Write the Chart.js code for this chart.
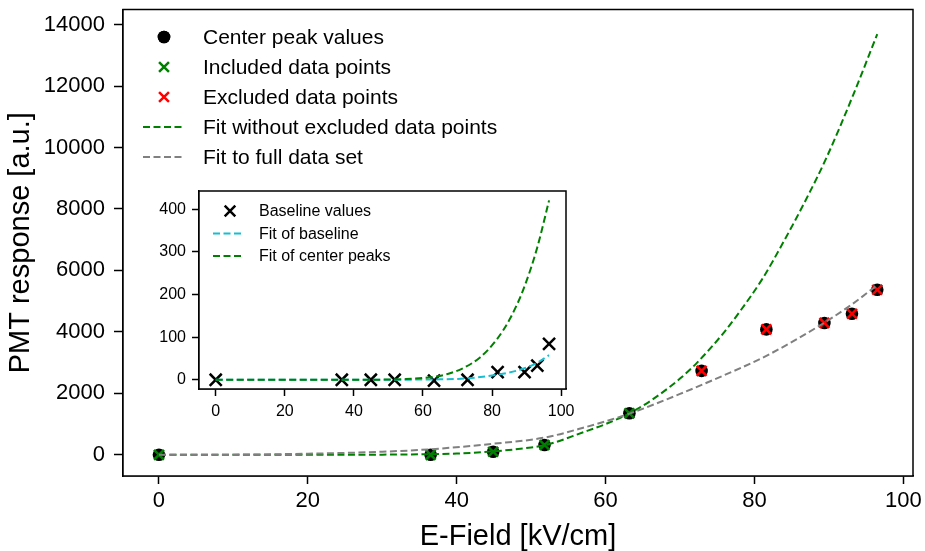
<!DOCTYPE html>
<html><head><meta charset="utf-8">
<script src="https://cdn.jsdelivr.net/npm/chart.js@4.4.1/dist/chart.umd.min.js"></script>
<style>
html,body{margin:0;padding:0;background:#fff;}
#wrap{position:relative;width:925px;height:551px;overflow:hidden;}
#main{position:absolute;left:0;top:0;}
#inset{position:absolute;left:140px;top:180px;}
</style></head><body>
<div id="wrap"><canvas id="main" width="925" height="551"></canvas><canvas id="inset" width="440" height="240"></canvas></div>
<script>
// ---------- data ----------
const includedField = [0, 36.5, 44.9, 51.8, 63.2];
const includedPeak  = [0, 0, 100, 320, 1350];
const excludedField = [72.9, 81.6, 89.4, 93.1, 96.5];
const excludedPeak  = [2730, 4080, 4290, 4590, 5370];

const fitExclField = [0, 10, 20, 30, 36.5, 40, 44.9, 50, 52, 57, 60, 63.2, 66, 70, 72.3, 76, 78, 81, 84, 87, 89.7, 93.3, 96.5];
const fitExclValue = [0, 0, 0, 5, 20, 40, 110, 240, 320, 734, 1000, 1350, 1750, 2480, 3000, 4010, 4650, 5700, 6970, 8340, 9680, 11730, 13690];

const fitFullField = [0, 10, 20, 30, 36.5, 44.9, 51.8, 57, 63.2, 70, 74.5, 81.6, 89.4, 93, 96.5];
const fitFullValue = [0, 5, 35, 100, 180, 360, 560, 880, 1340, 1980, 2440, 3220, 4300, 4880, 5520];

const baselineField = [0, 36.5, 44.9, 51.8, 63.2, 72.9, 81.6, 89.4, 93.1, 96.5];
const baselineValue = [0, 0, 0, 0, -2, 0, 18, 18, 33, 84];

const baseFitField = [0, 20, 40, 50, 60, 65, 70, 75, 81.6, 85, 89.4, 93.1, 96.5];
const baseFitValue = [0, 0, 0, 0, 0.5, 1, 2, 5, 12, 17, 27, 40, 58];

const peakFitField = [0, 20, 40, 50, 55, 62.1, 66.9, 71.8, 76.6, 81.4, 85.3, 89.2, 93.1, 96.5];
const peakFitValue = [0, 0, 0, 0.5, 1.5, 6, 13, 28, 53, 95, 145, 215, 311, 421];

const mainXTicks = [0, 20, 40, 60, 80, 100];
const mainYTicks = [0, 2000, 4000, 6000, 8000, 10000, 12000, 14000];
const insetXTicks = [0, 20, 40, 60, 80, 100];
const insetYTicks = [0, 100, 200, 300, 400];

const mainLegendLabels = ['Center peak values', 'Included data points', 'Excluded data points', 'Fit without excluded data points', 'Fit to full data set'];
const insetLegendLabels = ['Baseline values', 'Fit of baseline', 'Fit of center peaks'];

// ---------- helpers ----------
const FONT = '"Liberation Sans", Arial, sans-serif';
Chart.defaults.font.family = FONT;
Chart.defaults.color = '#000';
const GREEN = '#008000', RED = '#ff0000', GREY = '#808080', CYAN = '#17becf';
const pts = (xs, ys) => xs.map((x, i) => ({x: x, y: ys[i]}));

const framePlugin = {
  id: 'frame',
  beforeDatasetsDraw(chart) {
    const a = chart.chartArea, c = chart.ctx;
    c.save(); c.fillStyle = '#fff'; c.fillRect(a.left, a.top, a.right - a.left, a.bottom - a.top); c.restore();
  },
  afterDraw(chart) {
    const a = chart.chartArea, c = chart.ctx;
    c.save(); c.strokeStyle = '#000'; c.lineWidth = 1.5;
    c.strokeRect(a.left, a.top, a.right - a.left, a.bottom - a.top);
    c.restore();
    const lg = chart.options.plugins.customLegend;
    if (lg) drawLegend(chart, lg);
  }
};

function drawLegend(chart, lg) {
  const c = chart.ctx;
  c.save();
  lg.items.forEach((it, i) => {
    const y = lg.y0 + i * lg.dy;
    if (it.type === 'line') {
      c.strokeStyle = it.color; c.lineWidth = 2; c.setLineDash([7, 3.5]);
      c.beginPath(); c.moveTo(lg.lineX0, y); c.lineTo(lg.lineX1, y); c.stroke();
      c.setLineDash([]);
    } else {
      c.fillStyle = it.color; c.strokeStyle = it.color; c.lineWidth = it.bw;
      Chart.helpers.drawPoint(c, {pointStyle: it.style, radius: it.r, borderWidth: it.bw, rotation: 0}, lg.markX, y);
      if (it.style === 'circle') { c.fill(); }
    }
    c.fillStyle = '#000';
    c.font = lg.size + 'px ' + FONT;
    c.textBaseline = 'middle'; c.textAlign = 'left';
    c.fillText(lg.labels[i], lg.textX, y + 1);
  });
  c.restore();
}

function axisCommon(tickVals, size, tickLen, pad) {
  return {
    type: 'linear',
    afterBuildTicks: s => { s.ticks = tickVals.map(v => ({value: v})); },
    grid: {display: true, drawOnChartArea: false, drawTicks: true, tickLength: tickLen, tickWidth: 1.5, tickColor: '#000', color: '#000'},
    border: {display: true, color: '#000', width: 1.5},
    ticks: {color: '#000', font: {size: size, family: FONT}, padding: pad, maxRotation: 0, autoSkip: false, callback: v => String(v)}
  };
}
function noPad(s) { s.paddingTop = 0; s.paddingBottom = 0; s.paddingLeft = 0; s.paddingRight = 0; }

// ---------- main chart ----------
const mx = axisCommon(mainXTicks, 22, 8, 4);
Object.assign(mx, {min: -4.83, max: 101.3, afterFit: s => { s.height = 75; noPad(s); },
  title: {display: true, text: 'E-Field [kV/cm]', color: '#000', font: {size: 29, family: FONT, lineHeight: 1}, padding: {top: 0, bottom: 0}}});
const my = axisCommon(mainYTicks, 22, 9, 9);
Object.assign(my, {min: -690, max: 14490, afterFit: s => { s.width = 123; noPad(s); },
  title: {display: true, text: 'PMT response [a.u.]', color: '#000', font: {size: 29, family: FONT, lineHeight: 1}, padding: {top: 6, bottom: 0}}});

new Chart(document.getElementById('main'), {
  type: 'scatter',
  data: {datasets: [
    {label: mainLegendLabels[0], data: pts(includedField.concat(excludedField), includedPeak.concat(excludedPeak)),
      pointStyle: 'circle', pointRadius: 6.3, backgroundColor: '#000', borderColor: '#000', borderWidth: 0, order: 5},
    {label: mainLegendLabels[1], data: pts(includedField, includedPeak),
      pointStyle: 'crossRot', pointRadius: 7, borderColor: GREEN, borderWidth: 2.5, order: 4},
    {label: mainLegendLabels[2], data: pts(excludedField, excludedPeak),
      pointStyle: 'crossRot', pointRadius: 7, borderColor: RED, borderWidth: 2.5, order: 3},
    {label: mainLegendLabels[3], data: pts(fitExclField, fitExclValue), showLine: true, pointRadius: 0,
      borderColor: GREEN, borderWidth: 2, borderDash: [7, 3.5], cubicInterpolationMode: 'monotone', order: 2},
    {label: mainLegendLabels[4], data: pts(fitFullField, fitFullValue), showLine: true, pointRadius: 0,
      borderColor: GREY, borderWidth: 2, borderDash: [7, 3.5], cubicInterpolationMode: 'monotone', order: 1}
  ]},
  options: {
    responsive: false, animation: false, devicePixelRatio: 1,
    layout: {padding: {top: 9, right: 12, left: 0, bottom: 0}},
    scales: {x: mx, y: my},
    plugins: {
      legend: {display: false}, tooltip: {enabled: false},
      customLegend: {
        labels: mainLegendLabels, size: 21, y0: 37, dy: 30, markX: 164, textX: 203, lineX0: 143, lineX1: 185,
        items: [
          {type: 'mark', style: 'circle', r: 6.3, bw: 0, color: '#000'},
          {type: 'mark', style: 'crossRot', r: 7, bw: 2.5, color: GREEN},
          {type: 'mark', style: 'crossRot', r: 7, bw: 2.5, color: RED},
          {type: 'line', color: GREEN},
          {type: 'line', color: GREY}
        ]
      }
    }
  },
  plugins: [framePlugin]
});

// ---------- inset chart ----------
const ix = axisCommon(insetXTicks, 16, 7, 6);
Object.assign(ix, {min: -4.84, max: 101.4, afterFit: s => { s.height = 31; noPad(s); }});
const iy = axisCommon(insetYTicks, 16, 7, 6);
Object.assign(iy, {min: -21.7, max: 443, afterFit: s => { s.width = 59; noPad(s); }});

new Chart(document.getElementById('inset'), {
  type: 'scatter',
  data: {datasets: [
    {label: insetLegendLabels[0], data: pts(baselineField, baselineValue),
      pointStyle: 'crossRot', pointRadius: 8.5, borderColor: '#000', borderWidth: 2.5, order: 3},
    {label: insetLegendLabels[1], data: pts(baseFitField, baseFitValue), showLine: true, pointRadius: 0,
      borderColor: CYAN, borderWidth: 2, borderDash: [7, 3.5], cubicInterpolationMode: 'monotone', order: 2},
    {label: insetLegendLabels[2], data: pts(peakFitField, peakFitValue), showLine: true, pointRadius: 0,
      borderColor: GREEN, borderWidth: 2, borderDash: [7, 3.5], cubicInterpolationMode: 'monotone', order: 1}
  ]},
  options: {
    responsive: false, animation: false, devicePixelRatio: 1,
    layout: {padding: {top: 10, right: 14, left: 0, bottom: 0}},
    scales: {x: ix, y: iy},
    plugins: {
      legend: {display: false}, tooltip: {enabled: false},
      customLegend: {
        labels: insetLegendLabels, size: 16, y0: 31, dy: 22.5, markX: 90, textX: 119, lineX0: 73, lineX1: 103,
        items: [
          {type: 'mark', style: 'crossRot', r: 7.5, bw: 2.5, color: '#000'},
          {type: 'line', color: CYAN},
          {type: 'line', color: GREEN}
        ]
      }
    }
  },
  plugins: [framePlugin]
});
</script>
</body></html>
